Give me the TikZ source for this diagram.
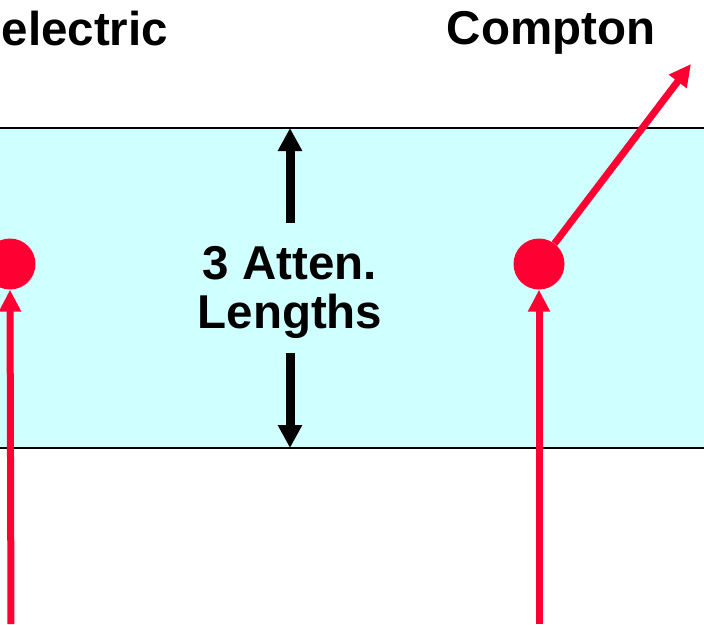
\documentclass[tikz,border=0pt]{standalone}
\usepackage{fontspec}
\setmainfont{Liberation Sans}
\usetikzlibrary{arrows.meta}
\definecolor{bandcyan}{RGB}{208,255,255}
\definecolor{hotred}{RGB}{255,0,51}
\tikzset{
  lbl/.style={font=\bfseries\fontsize{47.5}{52}\selectfont, inner sep=0pt},
  dot/.style={circle, fill=hotred, draw=none, minimum size=51pt, inner sep=0pt},
  redarrow/.style={draw=hotred, line width=7pt, -{Triangle[length=22pt,width=21pt]}},
  blackarrow/.style={draw=black, line width=9pt, -{Triangle[length=23pt,width=23pt]}},
  edge/.style={draw=black, line width=2.2pt}
}
\begin{document}
\begin{tikzpicture}[x=1pt,y=-1pt]
\useasboundingbox (0,0) rectangle (704,624);
% band
\fill[bandcyan] (0,128) rectangle (704,448);
\coordinate (tl) at (0,128);
\coordinate (tr) at (704,128);
\coordinate (bl) at (0,448);
\coordinate (br) at (704,448);
\draw[edge] (tl) -- (tr);
\draw[edge] (bl) -- (br);
% titles
\node[lbl, anchor=base west] (pe) at (1.5,45) {electric};
\node[lbl, anchor=base] (co) at (551,44) {Compton};
% thickness label
\node[lbl, anchor=base] (len1) at (290,279) {3 Atten.};
\node[lbl, anchor=base] (len2) at (290,328) {Lengths};
\coordinate (ua) at (290,223);
\coordinate (ut) at (290,128);
\coordinate (da) at (290,353);
\coordinate (dt) at (290,448);
\path[blackarrow] (ua) -- (ut);
\path[blackarrow] (da) -- (dt);
% interaction points
\node[dot] (lc) at (10,264) {};
\node[dot] (rc) at (539,264) {};
\coordinate (lb) at (11,624);
\coordinate (rb) at (539,624);
\coordinate (ctip) at (691,64);
\path[redarrow] (lb) -- (lc.south);
\path[redarrow] (rb) -- (rc.south);
\path[redarrow] (rc) -- (ctip);
\end{tikzpicture}
\end{document}
